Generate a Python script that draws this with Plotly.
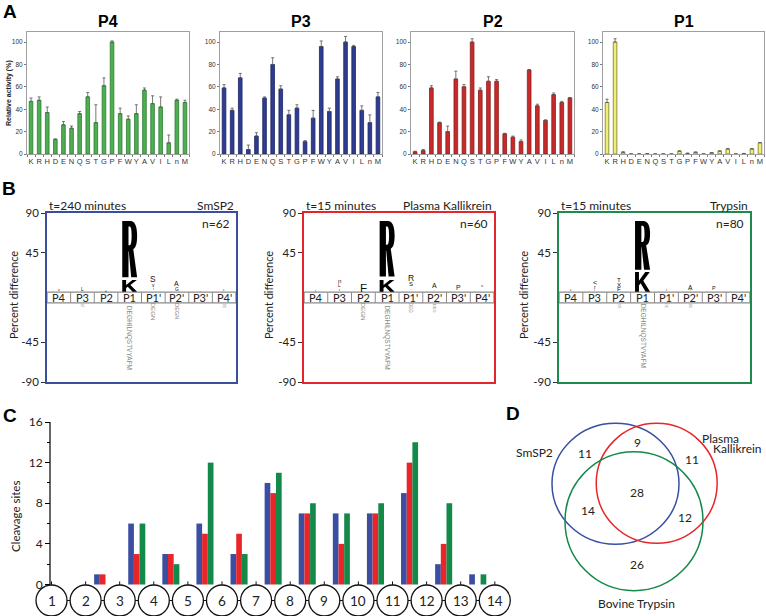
import plotly.graph_objects as go

W, H = 766, 616

# ---------------- DATA ----------------
# Panel A: relative activity (%) per amino acid at each subsite
amino_acids = ["K", "R", "H", "D", "E", "N", "Q", "S", "T", "G", "P", "F", "W", "Y", "A", "V", "I", "L", "n", "M"]
p4_vals = [47, 48, 37, 13, 26, 23, 36, 51, 28, 61, 100, 36, 31, 36, 57, 45, 42, 10, 48, 46]
p4_err = [3, 3, 5, 0.5, 3, 2, 2, 4, 16, 7, 1, 5, 3, 8, 2, 7, 9, 7, 1, 2]
p3_vals = [59, 39, 68, 4, 16, 50, 80, 58, 35, 41, 11, 32, 96, 38, 67, 100, 96, 39, 28, 51]
p3_err = [3, 2, 4, 4, 3, 1, 6, 3, 4, 3, 1, 7, 5, 3, 2, 5, 1, 4, 7, 4]
p2_vals = [2, 3, 59, 28, 20, 67, 60, 100, 57, 65, 65, 18, 15, 11, 75, 43, 30, 53, 46, 50]
p2_err = [0.5, 1, 2, 0.5, 5, 7, 2, 3, 2, 4, 1.5, 0.5, 1, 1.5, 0.5, 1.5, 0.5, 1.5, 1, 0.5]
p1_vals = [46, 100, 1.5, 0, 0, 0.2, 0, 0, 0, 2.5, 0.5, 1.5, 0, 1, 2.5, 4.5, 0, 0.3, 4.5, 10]
p1_err = [3, 3, 0.5, 0, 0, 0.2, 0, 0, 0, 0.3, 0.3, 0.3, 0, 0.3, 0.3, 0.3, 0, 0.2, 0.3, 0.3]
subsite_titles = ["P4", "P3", "P2", "P1"]

# Panel B: sequence logos (percent difference)
logo_positions = ["P4", "P3", "P2", "P1", "P1'", "P2'", "P3'", "P4'"]
logo_enzymes = ["SmSP2", "Plasma Kallikrein", "Trypsin"]
logo_times = ["t=240 minutes", "t=15 minutes", "t=15 minutes"]
logo_n = ["n=62", "n=60", "n=80"]
# big letters: (position index, letter, bottom %, top %)
smsp2_big = [(3, "K", 0.5, 14), (3, "R", 17, 81)]
kallikrein_big = [(3, "K", 0.5, 14), (3, "R", 18, 81)]
trypsin_big = [(3, "K", 0.5, 23), (3, "R", 25.5, 81)]
# small letters: (position index, letter, bottom %, top %)
smsp2_small = [(0, "o", 0.5, 2.5), (1, "L", 0.7, 4.5), (2, "=", 0.5, 2), (4, "S", 10.5, 17.3),
               (4, "v", 5, 9), (4, "i", 1, 4), (5, "A", 6.3, 12), (5, "G", 1, 5),
               (6, "-", 0.5, 2), (7, "c", 0.5, 3)]
kallikrein_small = [(0, "i", 0.5, 2), (1, "n", 10, 15), (1, "L", 5.6, 9.3), (1, "i", 1, 4.5),
                    (2, "F", 0.5, 10), (4, "R", 12, 19), (4, "S", 6.3, 11.3), (4, "-", 1, 4),
                    (5, "A", 4.3, 10), (5, "-", 1, 3), (6, "P", 1.7, 7.4), (7, "^", 2.5, 6.3)]
trypsin_small = [(0, "c", 0.5, 3), (1, "<", 8, 14), (1, "r", 3, 7), (1, "i", 0.5, 3),
                 (2, "T", 11, 16), (2, "X", 6, 11), (2, "F", 1, 6), (4, "i", 0.5, 3.5),
                 (5, "A", 2.6, 8), (5, "i", 0.5, 2.5), (6, "P", 1.7, 6)]
# negative stacks: (position index, letters, depth %)
smsp2_neg = [(1, "ST", 4.4), (3, "DEGHILNQSTVYAFM", 76), (4, "DEGN", 17.6), (5, "DEGN", 15.8), (7, "DE", 4.4)]
kallikrein_neg = [(2, "DEGN", 17.6), (3, "DEGHILNQSTVYAFM", 76), (4, "DEG", 10.1), (5, "DEG", 8.2)]
trypsin_neg = [(2, "DE", 4.4), (3, "DEGHILNQSTVYAFM", 70.7), (4, "DE", 4.4), (5, "DE", 4.4)]

# Panel C: cleavage sites between residues
residues = list(range(1, 15))
cleavage_pos = [1.5, 2.5, 3.5, 4.5, 5.5, 6.5, 7.5, 8.5, 9.5, 10.5, 11.5, 12.5, 13.5]
smsp2_sites = [0, 1, 6, 3, 6, 3, 10, 7, 7, 7, 9, 2, 1]
kallikrein_sites = [0, 1, 3, 3, 5, 5, 9, 7, 4, 7, 12, 4, 0]
trypsin_sites = [0, 0, 6, 2, 12, 3, 11, 8, 7, 8, 14, 8, 1]
c_ticks = [0, 4, 8, 12, 16]

# Panel D: Venn counts
venn_labels = ["SmSP2 only", "SmSP2+Kallikrein", "Kallikrein only", "All three",
               "SmSP2+Trypsin", "Kallikrein+Trypsin", "Trypsin only"]
venn_counts = [11, 9, 11, 28, 14, 12, 26]

# ---------------- HELPERS ----------------
def fx(x):
    return x / W

def fy(y):
    return 1 - y / H

fig = go.Figure()
lay = {}
annotations = []
shapes = []
SANS = "Lato"

def pnote(text, px, py, size, xanchor="center", yanchor="middle", angle=0, color="#222", family=SANS):
    annotations.append(dict(text=text, x=fx(px), y=fy(py), xref="paper", yref="paper",
                            xanchor=xanchor, yanchor=yanchor, textangle=angle, showarrow=False,
                            font=dict(size=size, color=color, family=family)))

def ax_names(i):
    return ("x" if i == 1 else f"x{i}", "y" if i == 1 else f"y{i}",
            "xaxis" if i == 1 else f"xaxis{i}", "yaxis" if i == 1 else f"yaxis{i}")

# ---------------- PANEL A ----------------
A_vals = [p4_vals, p3_vals, p2_vals, p1_vals]
A_errs = [p4_err, p3_err, p2_err, p1_err]
A_fill = ["#4caf50", "#2f3c8f", "#c82a2a", "#eeee78"]
A_line = ["#2f7a33", "#1b2466", "#8a1c1c", "#7a7a2a"]
A_box = [(27, 189), (220, 382), (411, 574), (603, 764)]
A_top, A_bot = 32, 154

for k in range(4):
    xr, yr, xk, yk = ax_names(k + 1)
    fig.add_trace(go.Bar(
        x=amino_acids, y=A_vals[k], width=0.45,
        marker=dict(color=A_fill[k], line=dict(color=A_line[k], width=0.8)),
        error_y=dict(type="data", array=A_errs[k], arrayminus=[0] * len(A_errs[k]),
                     symmetric=False, color="#555", thickness=0.8, width=1.5),
        xaxis=xr, yaxis=yr, showlegend=False, hoverinfo="skip"))
    x0, x1 = A_box[k]
    lay[xk] = dict(domain=[fx(x0), fx(x1)], anchor=yr, type="category", range=[-0.5, 19.5],
                   showline=True, mirror=True, linecolor="#a0a0a0", linewidth=1,
                   ticks="outside", ticklen=2, tickcolor="#777", tickson="boundaries",
                   tickmode="linear", dtick=1, tickangle=0, automargin=False,
                   tickfont=dict(size=7.5, color="#333"), showgrid=False)
    lay[yk] = dict(domain=[fy(A_bot), fy(A_top)], anchor=xr, range=[0, 109], dtick=20,
                   showline=True, mirror=True, linecolor="#a0a0a0", linewidth=1,
                   ticks="outside", ticklen=2, tickcolor="#777", automargin=False,
                   tickfont=dict(size=6.5, color="#333"), showgrid=False, zeroline=False)
    pnote(f"<b>{subsite_titles[k]}</b>", (x0 + x1) / 2, 21.5, 16, color="#000", family="Liberation Sans")

pnote("<b>Relative activity (%)</b>", 9, 93, 7, angle=-90, family="Liberation Sans")

# ---------------- PANEL B ----------------
R_GLYPH = [("M", [(0, 0)]), ("L", [(0, 1)]), ("L", [(0.55, 1)]),
           ("C", [(0.86, 1), (1, 0.9), (1, 0.74)]), ("C", [(1, 0.6), (0.92, 0.52), (0.74, 0.5)]),
           ("L", [(1, 0)]), ("L", [(0.6, 0)]), ("L", [(0.44, 0.46)]), ("L", [(0.42, 0.46)]),
           ("L", [(0.42, 0)]), ("Z", []),
           ("M", [(0.42, 0.57)]), ("L", [(0.42, 0.9)]), ("L", [(0.5, 0.9)]),
           ("C", [(0.6, 0.9), (0.63, 0.83), (0.63, 0.74)]), ("C", [(0.63, 0.64), (0.6, 0.57), (0.5, 0.57)]),
           ("Z", [])]
K_GLYPH = [("M", [(0, 0)]), ("L", [(0, 1)]), ("L", [(0.26, 1)]), ("L", [(0.26, 0.56)]),
           ("L", [(0.68, 1)]), ("L", [(0.98, 1)]), ("L", [(0.55, 0.56)]), ("L", [(1.0, 0)]),
           ("L", [(0.7, 0)]), ("L", [(0.37, 0.43)]), ("L", [(0.26, 0.32)]), ("L", [(0.26, 0)]),
           ("Z", [])]
GLYPHS = {"R": R_GLYPH, "K": K_GLYPH}

def glyph_path(glyph, xc, w, y0, y1):
    parts = []
    for cmd, pts in glyph:
        coords = [f"{xc + (u - 0.5) * w:.4f},{y0 + v * (y1 - y0):.4f}" for (u, v) in pts]
        parts.append(cmd + " ".join(coords))
    return " ".join(parts)

B_box = [(47, 236), (304, 494), (559, 750)]
B_top, B_bot = 213, 382
B_col = ["#3b4e9c", "#e3262b", "#1f8a4e"]
B_big = [smsp2_big, kallikrein_big, trypsin_big]
B_small = [smsp2_small, kallikrein_small, trypsin_small]
B_neg = [smsp2_neg, kallikrein_neg, trypsin_neg]
B_ylab_x = [13, 268, 523]
OFF = 6.0          # half height of the position band (axis units)
UNIT_PX = 169 / 192.0

for k in range(3):
    i = k + 5
    xr, yr, xk, yk = ax_names(i)
    fig.add_trace(go.Scatter(x=[0], y=[0], mode="markers", marker=dict(size=1, opacity=0),
                             xaxis=xr, yaxis=yr, hoverinfo="skip", showlegend=False))
    x0, x1 = B_box[k]
    lay[xk] = dict(domain=[fx(x0), fx(x1)], anchor=yr, range=[-0.5, 7.5], showline=True,
                   mirror=True, linecolor=B_col[k], linewidth=1.6, showticklabels=False,
                   ticks="", showgrid=False, zeroline=False, automargin=False)
    lay[yk] = dict(domain=[fy(B_bot), fy(B_top)], anchor=xr, range=[-96, 96],
                   tickvals=[96, 51, -51, -96], ticktext=["90", "45", "-45", "-90"],
                   showline=True, mirror=True, linecolor=B_col[k], linewidth=1.6,
                   ticks="outside", ticklen=4, tickcolor="#333", automargin=False,
                   tickfont=dict(size=11.5, color="#222", family=SANS),
                   showgrid=False, zeroline=False)
    # position band
    shapes.append(dict(type="rect", xref=xr, yref=yr, x0=-0.5, x1=7.5, y0=-OFF, y1=OFF,
                       line=dict(color="#8a8a8a", width=1.3), fillcolor="white", layer="above"))
    for j in range(7):
        shapes.append(dict(type="line", xref=xr, yref=yr, x0=j + 0.5, x1=j + 0.5, y0=-OFF, y1=OFF,
                           line=dict(color="#8a8a8a", width=1)))
    for j, lab in enumerate(logo_positions):
        annotations.append(dict(text=lab, x=j, y=-0.3, xref=xr, yref=yr, showarrow=False,
                                xanchor="center", yanchor="middle",
                                font=dict(size=11, color="#222", family=SANS)))
    # big letters
    for (pos, letter, b, t) in B_big[k]:
        shapes.append(dict(type="path", xref=xr, yref=yr,
                           path=glyph_path(GLYPHS[letter], pos, 0.63, b + OFF, t + OFF),
                           fillcolor="black", line=dict(width=0), fillrule="evenodd"))
    # small letters
    for (pos, letter, b, t) in B_small[k]:
        fs = max(3, (t - b) * UNIT_PX / 0.72)
        annotations.append(dict(text=letter, x=pos, y=(b + t) / 2 + OFF + 0.6, xref=xr, yref=yr,
                                showarrow=False, xanchor="center", yanchor="middle",
                                font=dict(size=fs, color="#111", family="Liberation Sans")))
    # negative stacks
    for (pos, letters, depth) in B_neg[k]:
        fs = max(3, min(6.5, depth * UNIT_PX / (len(letters) * 0.62)))
        annotations.append(dict(text=letters, x=pos, y=-OFF - 1.5 - depth / 2, xref=xr, yref=yr,
                                showarrow=False, textangle=90, xanchor="center", yanchor="middle",
                                font=dict(size=fs, color="#888", family="Liberation Sans")))
    # titles
    pnote(logo_times[k], x0, 205.5, 12, xanchor="left")
    pnote(logo_enzymes[k], x1, 205, 12, xanchor="right")
    pnote(logo_n[k], x1 - 4, 223.5, 12, xanchor="right")
    pnote("Percent difference", B_ylab_x[k], 295, 11, angle=-90)

# ---------------- PANEL C ----------------
C_colors = ["#3a4ea2", "#e8262a", "#13894a"]
C_series = [smsp2_sites, kallikrein_sites, trypsin_sites]
for k in range(3):
    fig.add_trace(go.Bar(x=cleavage_pos, y=C_series[k], width=1 / 6, offset=-0.25 + k / 6,
                         marker=dict(color=C_colors[k], line=dict(width=0)),
                         xaxis="x8", yaxis="y8", showlegend=False, hoverinfo="skip"))

SP = 34.1                     # px per residue
C_X0, C_X1 = 35, 512          # domain px
C_Y16, C_Y0, C_BOT = 422, 584.5, 616
PXU = (C_Y0 - C_Y16) / 16.0
x_lo = 1 - (51.5 - C_X0) / SP
x_hi = 1 + (C_X1 - 51.5) / SP
y_lo = -(C_BOT - C_Y0) / PXU
lay["xaxis8"] = dict(domain=[fx(C_X0), fx(C_X1)], anchor="y8", range=[x_lo, x_hi], automargin=False,
                     showline=False, showticklabels=False, ticks="", showgrid=False, zeroline=False)
lay["yaxis8"] = dict(domain=[0, fy(C_Y16)], anchor="free", position=fx(50), range=[y_lo, 16],
                     tickvals=c_ticks, ticks="outside", ticklen=5, tickcolor="#000", automargin=False,
                     minor=dict(tickvals=[2, 6, 10, 14], ticks="outside", ticklen=3, tickcolor="#000"),
                     tickfont=dict(size=12, color="#222", family=SANS),
                     showline=False, showgrid=False, zeroline=False)
axis_x = 1 + (50 - 51.5) / SP
shapes.append(dict(type="line", xref="x8", yref="y8", x0=axis_x, x1=axis_x, y0=0, y1=16,
                   line=dict(color="#000", width=1.2)))
rx = 15.5 / SP
ry = 15.5 / PXU
cy = -(600.5 - C_Y0) / PXU
for r in residues:
    shapes.append(dict(type="circle", xref="x8", yref="y8", x0=r - rx, x1=r + rx,
                       y0=cy - ry, y1=cy + ry, line=dict(color="#111", width=1.3)))
    shapes.append(dict(type="line", xref="x8", yref="y8", x0=r, x1=r, y0=cy + ry, y1=cy + ry + 0.35,
                       line=dict(color="#111", width=1)))
    annotations.append(dict(text=str(r), x=r, y=cy, xref="x8", yref="y8", showarrow=False,
                            xanchor="center", yanchor="middle",
                            font=dict(size=13.5, color="#222", family=SANS)))
    if r < residues[-1]:
        shapes.append(dict(type="line", xref="x8", yref="y8", x0=r + rx, x1=r + 1 - rx,
                           y0=cy, y1=cy, line=dict(color="#111", width=1)))
pnote("Cleavage sites", 15, 517, 11.5, angle=-90)

# ---------------- PANEL D ----------------
venn_circles = [((615.5, 483.7), 63.5, 60.5, "#3a4ea2"),
                ((656.7, 483.3), 60.5, 60.0, "#e8262a"),
                ((634.0, 521.2), 69.0, 69.5, "#13894a")]
for (cx, cyy), rxx, ryy, col in venn_circles:
    shapes.append(dict(type="circle", xref="paper", yref="paper", x0=fx(cx - rxx), x1=fx(cx + rxx),
                       y0=fy(cyy + ryy), y1=fy(cyy - ryy), line=dict(color=col, width=1.5)))
venn_xy = [(585, 453), (637, 442), (692, 459), (637, 492), (588, 510), (685, 517), (637, 564.5)]
for cnt, (px, py) in zip(venn_counts, venn_xy):
    pnote(str(cnt), px, py, 12)
for txt, px, py in [("SmSP2", 534, 452), ("Plasma", 720, 438), ("Kallikrein", 737.5, 448),
                    ("Bovine Trypsin", 636.5, 603)]:
    pnote(txt, px, py, 12)

# ---------------- PANEL LETTERS ----------------
for txt, px, py in [("A", 10, 11), ("B", 9, 188), ("C", 10, 415), ("D", 513, 413)]:
    pnote(f"<b>{txt}</b>", px, py, 19, color="#000", family="Liberation Sans")

fig.update_layout(width=W, height=H, margin=dict(l=0, r=0, t=0, b=0, autoexpand=False),
                  paper_bgcolor="white", plot_bgcolor="white", barmode="overlay",
                  font=dict(family="Liberation Sans", color="#222"),
                  annotations=annotations, shapes=shapes, **lay)
fig.write_html("out.html", config={"displayModeBar": False},
               post_script="document.body.style.margin='0px';")
